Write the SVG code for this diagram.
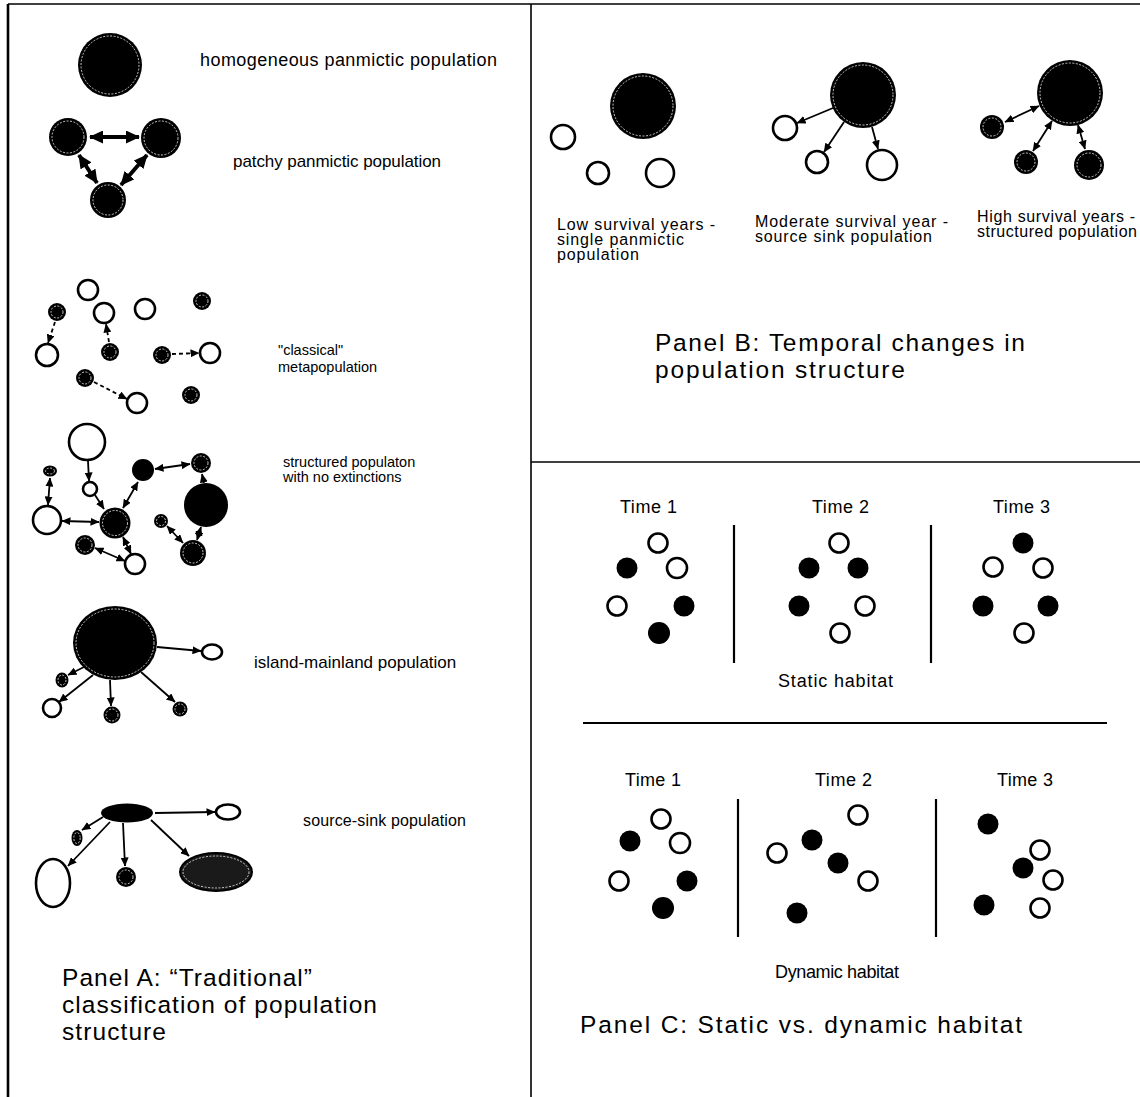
<svg xmlns="http://www.w3.org/2000/svg" width="1140" height="1097" viewBox="0 0 1140 1097">
<style>
.o{fill:#fff;stroke:#000;stroke-width:2.6}
.f{fill:#000}
.g{fill:#1a1a1a;stroke:#000;stroke-width:2}
.ring{fill:none;stroke:#fff;stroke-width:0.9;stroke-dasharray:2 1.5;opacity:0.85}
.ln{stroke:#000;stroke-width:1.8;fill:none}
.thick{stroke:#000;stroke-width:4;fill:none}
.dash{stroke-dasharray:4 3}
.frame{stroke:#000;fill:none}
text{font-family:"Liberation Sans",Arial,Helvetica,sans-serif;fill:#000}
.s14{font-size:14.5px}
.s16{font-size:16px}
.s17{font-size:17px}
.s18{font-size:18px}
.cap{font-size:24.5px}
</style>
<defs>
<marker id="ah" markerUnits="userSpaceOnUse" markerWidth="9" markerHeight="8" refX="8.5" refY="4" orient="auto-start-reverse"><path d="M0,0 L9,4 L0,8 Z" fill="#000"/></marker>
<marker id="ahb" markerUnits="userSpaceOnUse" markerWidth="14" markerHeight="13" refX="13" refY="6.5" orient="auto-start-reverse"><path d="M0,0 L14,6.5 L0,13 Z" fill="#000"/></marker>
</defs>
<rect width="1140" height="1097" fill="#fff"/>
<g id="frame">
<line class="frame" x1="8" y1="4" x2="1140" y2="4" stroke-width="1.5"/>
<line class="frame" x1="8" y1="4" x2="8" y2="1097" stroke-width="2.6"/>
<line class="frame" x1="531" y1="4" x2="531" y2="1097" stroke-width="1.6"/>
<line class="frame" x1="531" y1="462" x2="1140" y2="462" stroke-width="1.6"/>
<line class="frame" x1="583" y1="723" x2="1107" y2="723" stroke-width="2"/>
<line class="frame" x1="734" y1="525" x2="734" y2="663" stroke-width="2.2"/>
<line class="frame" x1="931" y1="525" x2="931" y2="663" stroke-width="2.2"/>
<line class="frame" x1="738" y1="799" x2="738" y2="937" stroke-width="2.2"/>
<line class="frame" x1="936" y1="799" x2="936" y2="937" stroke-width="2.2"/>
</g>

<!-- Panel A -->
<g id="homogeneous"><circle class="f" cx="110" cy="65" r="32"/><circle class="ring" cx="110" cy="65" r="29"/></g>
<g id="patchy-left"><circle class="f" cx="68" cy="137" r="19"/><circle class="ring" cx="68" cy="137" r="16"/></g>
<g id="patchy-right"><circle class="f" cx="161" cy="138" r="20"/><circle class="ring" cx="161" cy="138" r="17"/></g>
<g id="patchy-bottom"><circle class="f" cx="108" cy="200" r="18"/><circle class="ring" cx="108" cy="200" r="15"/></g>

<g id="cm1"><circle class="o" cx="88" cy="290" r="10"/></g>
<g id="cm2"><circle class="o" cx="104" cy="313" r="10"/></g>
<g id="cm3"><circle class="o" cx="145" cy="309" r="10"/></g>
<g id="cm4"><circle class="o" cx="47" cy="355" r="11"/></g>
<g id="cm5"><circle class="o" cx="210" cy="353" r="10"/></g>
<g id="cm6"><circle class="o" cx="137" cy="403" r="10"/></g>
<g id="cm7"><circle class="f" cx="57" cy="312" r="9"/><circle class="ring" cx="57" cy="312" r="6"/></g>
<g id="cm8"><circle class="f" cx="202" cy="301" r="9"/><circle class="ring" cx="202" cy="301" r="6"/></g>
<g id="cm9"><circle class="f" cx="110" cy="352" r="9"/><circle class="ring" cx="110" cy="352" r="6"/></g>
<g id="cm10"><circle class="f" cx="162" cy="355" r="9"/><circle class="ring" cx="162" cy="355" r="6"/></g>
<g id="cm11"><circle class="f" cx="85" cy="378" r="9"/><circle class="ring" cx="85" cy="378" r="6"/></g>
<g id="cm12"><circle class="f" cx="191" cy="395" r="9"/><circle class="ring" cx="191" cy="395" r="6"/></g>

<g id="sp-A"><circle class="o" cx="87" cy="442" r="18"/></g>
<g id="sp-B"><ellipse class="f" cx="50" cy="471" rx="7" ry="5.5"/><ellipse class="ring" cx="50" cy="471" rx="4.5" ry="3"/></g>
<g id="sp-C"><circle class="o" cx="90" cy="489" r="7"/></g>
<g id="sp-D"><circle class="o" cx="47" cy="520" r="14"/></g>
<g id="sp-E"><circle class="f" cx="115" cy="523" r="15.5"/><circle class="ring" cx="115" cy="523" r="12.5"/></g>
<g id="sp-F"><circle class="f" cx="143" cy="470" r="11"/></g>
<g id="sp-G"><circle class="f" cx="201" cy="463" r="10"/><circle class="ring" cx="201" cy="463" r="7"/></g>
<g id="sp-H"><circle class="f" cx="206" cy="505" r="22"/></g>
<g id="sp-I"><circle class="f" cx="161" cy="521" r="7"/><circle class="ring" cx="161" cy="521" r="4.5"/></g>
<g id="sp-J"><circle class="f" cx="85" cy="545" r="10"/><circle class="ring" cx="85" cy="545" r="7"/></g>
<g id="sp-K"><circle class="o" cx="135" cy="564" r="10"/></g>
<g id="sp-L"><circle class="f" cx="193" cy="553" r="13"/><circle class="ring" cx="193" cy="553" r="10"/></g>

<g id="mainland"><ellipse class="f" cx="115" cy="643" rx="42" ry="37"/><ellipse class="ring" cx="115" cy="643" rx="39" ry="34"/></g>
<g id="im1"><ellipse class="o" cx="212" cy="652" rx="10" ry="7.5"/></g>
<g id="im2"><ellipse class="f" cx="62" cy="680" rx="6.5" ry="7.5"/><ellipse class="ring" cx="62" cy="680" rx="4" ry="5"/></g>
<g id="im3"><circle class="o" cx="52" cy="708" r="9"/></g>
<g id="im4"><circle class="f" cx="112" cy="715" r="8.5"/><circle class="ring" cx="112" cy="715" r="6"/></g>
<g id="im5"><circle class="f" cx="180" cy="709" r="7.5"/><circle class="ring" cx="180" cy="709" r="5"/></g>

<g id="source"><ellipse class="f" cx="127" cy="813" rx="26" ry="9.5"/></g>
<g id="ss1"><ellipse class="o" cx="228" cy="812" rx="12" ry="7.5"/></g>
<g id="ss2"><ellipse class="f" cx="77" cy="838" rx="5.5" ry="8"/><ellipse class="ring" cx="77" cy="838" rx="3.2" ry="5.5"/></g>
<g id="ss3"><ellipse class="o" cx="53" cy="883" rx="17" ry="24"/></g>
<g id="ss4"><circle class="f" cx="126" cy="877" r="10"/><circle class="ring" cx="126" cy="877" r="7"/></g>
<g id="ss5"><ellipse class="g" cx="216" cy="872" rx="36" ry="19"/><ellipse class="ring" cx="216" cy="872" rx="33" ry="16"/></g>

<!-- Panel B -->
<g id="low-big"><circle class="f" cx="643" cy="106" r="33"/><circle class="ring" cx="643" cy="106" r="30"/></g>
<g id="low-1"><circle class="o" cx="563" cy="137" r="12"/></g>
<g id="low-2"><circle class="o" cx="598" cy="173" r="11"/></g>
<g id="low-3"><circle class="o" cx="660" cy="173" r="14"/></g>
<g id="mod-big"><circle class="f" cx="863" cy="95" r="33"/><circle class="ring" cx="863" cy="95" r="30"/></g>
<g id="mod-1"><circle class="o" cx="785" cy="128" r="12"/></g>
<g id="mod-2"><circle class="o" cx="817" cy="162" r="11"/></g>
<g id="mod-3"><circle class="o" cx="882" cy="165" r="15"/></g>
<g id="high-big"><circle class="f" cx="1070" cy="93" r="33"/><circle class="ring" cx="1070" cy="93" r="30"/></g>
<g id="high-1"><circle class="f" cx="992" cy="127" r="12"/><circle class="ring" cx="992" cy="127" r="9"/></g>
<g id="high-2"><circle class="f" cx="1026" cy="162" r="12"/><circle class="ring" cx="1026" cy="162" r="9"/></g>
<g id="high-3"><circle class="f" cx="1089" cy="165" r="15"/><circle class="ring" cx="1089" cy="165" r="12"/></g>

<!-- Panel C static -->
<g id="st1">
<circle class="o" cx="658" cy="543" r="9.5"/><circle class="f" cx="627" cy="568" r="10.5"/><circle class="o" cx="677" cy="568" r="10"/>
<circle class="o" cx="617" cy="606" r="9.5"/><circle class="f" cx="684" cy="606" r="10.5"/><circle class="f" cx="659" cy="633" r="11"/>
</g>
<g id="st2">
<circle class="o" cx="839" cy="543" r="9.5"/><circle class="f" cx="809" cy="568" r="10.5"/><circle class="f" cx="858" cy="568" r="10.5"/>
<circle class="f" cx="799" cy="606" r="10.5"/><circle class="o" cx="865" cy="606" r="9.5"/><circle class="o" cx="840" cy="633" r="9.5"/>
</g>
<g id="st3">
<circle class="f" cx="1023" cy="543" r="10.5"/><circle class="o" cx="993" cy="567" r="9.5"/><circle class="o" cx="1043" cy="568" r="9.5"/>
<circle class="f" cx="983" cy="606" r="10.5"/><circle class="f" cx="1048" cy="606" r="10.5"/><circle class="o" cx="1024" cy="633" r="9.5"/>
</g>
<!-- Panel C dynamic -->
<g id="dy1">
<circle class="o" cx="661" cy="819" r="9.5"/><circle class="f" cx="630" cy="841" r="10.5"/><circle class="o" cx="680" cy="843" r="10"/>
<circle class="o" cx="619" cy="881" r="9.5"/><circle class="f" cx="687" cy="881" r="10.5"/><circle class="f" cx="663" cy="908" r="11"/>
</g>
<g id="dy2">
<circle class="o" cx="777" cy="853" r="9.5"/><circle class="f" cx="812" cy="840" r="10.5"/><circle class="f" cx="838" cy="863" r="10.5"/>
<circle class="o" cx="858" cy="815" r="9.5"/><circle class="o" cx="868" cy="881" r="9.5"/><circle class="f" cx="797" cy="913" r="10.5"/>
</g>
<g id="dy3">
<circle class="f" cx="988" cy="824" r="10.5"/><circle class="o" cx="1040" cy="850" r="9.5"/><circle class="f" cx="1023" cy="868" r="10.5"/>
<circle class="o" cx="1053" cy="880" r="9.5"/><circle class="f" cx="984" cy="905" r="10.5"/><circle class="o" cx="1040" cy="908" r="9.5"/>
</g>

<g id="connectors">
<line class="thick" x1="90" y1="137" x2="139" y2="137" marker-start="url(#ahb)" marker-end="url(#ahb)"/>
<line class="thick" x1="79" y1="155" x2="97" y2="183" marker-start="url(#ahb)" marker-end="url(#ahb)"/>
<line class="thick" x1="147" y1="155" x2="121" y2="185" marker-start="url(#ahb)" marker-end="url(#ahb)"/>
<line class="ln dash" x1="55" y1="322" x2="48" y2="343" marker-end="url(#ah)"/>
<line class="ln dash" x1="109" y1="342" x2="106" y2="324" marker-end="url(#ah)"/>
<line class="ln dash" x1="172" y1="354" x2="199" y2="353" marker-end="url(#ah)"/>
<line class="ln dash" x1="94" y1="382" x2="127" y2="399" marker-end="url(#ah)"/>
<line class="ln" x1="88" y1="461" x2="89" y2="481" marker-end="url(#ah)"/>
<line class="ln" x1="95" y1="495" x2="104" y2="509" marker-end="url(#ah)"/>
<line class="ln" x1="50" y1="478" x2="48" y2="505" marker-start="url(#ah)" marker-end="url(#ah)"/>
<line class="ln" x1="62" y1="521" x2="99" y2="522" marker-start="url(#ah)" marker-end="url(#ah)"/>
<line class="ln" x1="123" y1="508" x2="138" y2="482" marker-start="url(#ah)" marker-end="url(#ah)"/>
<line class="ln" x1="155" y1="469" x2="190" y2="464" marker-start="url(#ah)" marker-end="url(#ah)"/>
<line class="ln" x1="204" y1="483" x2="202" y2="474" marker-end="url(#ah)"/>
<line class="ln" x1="201" y1="527" x2="197" y2="540" marker-start="url(#ah)" marker-end="url(#ah)"/>
<line class="ln" x1="167" y1="526" x2="183" y2="543" marker-start="url(#ah)" marker-end="url(#ah)"/>
<line class="ln" x1="95" y1="548" x2="125" y2="561" marker-start="url(#ah)" marker-end="url(#ah)"/>
<line class="ln" x1="123" y1="537" x2="131" y2="554" marker-start="url(#ah)" marker-end="url(#ah)"/>
<line class="ln" x1="157" y1="647" x2="201" y2="651" marker-end="url(#ah)"/>
<line class="ln" x1="84" y1="667" x2="68" y2="675" marker-end="url(#ah)"/>
<line class="ln" x1="93" y1="675" x2="59" y2="702" marker-end="url(#ah)"/>
<line class="ln" x1="110" y1="680" x2="111" y2="706" marker-end="url(#ah)"/>
<line class="ln" x1="141" y1="672" x2="175" y2="702" marker-end="url(#ah)"/>
<line class="ln" x1="155" y1="813" x2="215" y2="812" marker-end="url(#ah)"/>
<line class="ln" x1="103" y1="817" x2="82" y2="830" marker-end="url(#ah)"/>
<line class="ln" x1="110" y1="822" x2="68" y2="866" marker-end="url(#ah)"/>
<line class="ln" x1="123" y1="823" x2="125" y2="866" marker-end="url(#ah)"/>
<line class="ln" x1="151" y1="820" x2="189" y2="856" marker-end="url(#ah)"/>
<line class="ln" x1="833" y1="108" x2="797" y2="123" marker-end="url(#ah)"/>
<line class="ln" x1="844" y1="122" x2="824" y2="152" marker-end="url(#ah)"/>
<line class="ln" x1="872" y1="127" x2="878" y2="149" marker-end="url(#ah)"/>
<line class="ln" x1="1039" y1="106" x2="1005" y2="122" marker-start="url(#ah)" marker-end="url(#ah)"/>
<line class="ln" x1="1052" y1="121" x2="1033" y2="151" marker-start="url(#ah)" marker-end="url(#ah)"/>
<line class="ln" x1="1078" y1="125" x2="1085" y2="149" marker-start="url(#ah)" marker-end="url(#ah)"/>
</g>

<g id="labels">
<text class="s18" x="200" y="66" textLength="297" lengthAdjust="spacing">homogeneous panmictic population</text>
<text class="s17" x="233" y="167" textLength="208" lengthAdjust="spacing">patchy panmictic population</text>
<text class="s14" x="278" y="355">"classical"</text>
<text class="s14" x="278" y="372">metapopulation</text>
<text class="s14" x="283" y="467">structured populaton</text>
<text class="s14" x="283" y="482">with no extinctions</text>
<text class="s17" x="254" y="668">island-mainland population</text>
<text class="s16" x="303" y="826" textLength="163" lengthAdjust="spacing">source-sink population</text>
<text class="cap" x="62" y="986" textLength="250" lengthAdjust="spacing">Panel A: “Traditional”</text>
<text class="cap" x="62" y="1013" textLength="315" lengthAdjust="spacing">classification of population</text>
<text class="cap" x="62" y="1040" textLength="104" lengthAdjust="spacing">structure</text>

<text class="s16" x="557" y="230" textLength="158" lengthAdjust="spacing">Low survival years -</text>
<text class="s16" x="557" y="245" textLength="127" lengthAdjust="spacing">single panmictic</text>
<text class="s16" x="557" y="260" textLength="82" lengthAdjust="spacing">population</text>
<text class="s16" x="755" y="227" textLength="193" lengthAdjust="spacing">Moderate survival year -</text>
<text class="s16" x="755" y="242" textLength="177" lengthAdjust="spacing">source sink population</text>
<text class="s16" x="977" y="222" textLength="158" lengthAdjust="spacing">High survival years -</text>
<text class="s16" x="977" y="237" textLength="160" lengthAdjust="spacing">structured population</text>
<text class="cap" x="655" y="351" textLength="370" lengthAdjust="spacing">Panel B: Temporal changes in</text>
<text class="cap" x="655" y="378" textLength="250" lengthAdjust="spacing">population structure</text>

<text class="s18" x="620" y="513" textLength="57" lengthAdjust="spacing">Time 1</text>
<text class="s18" x="812" y="513" textLength="57" lengthAdjust="spacing">Time 2</text>
<text class="s18" x="993" y="513" textLength="57" lengthAdjust="spacing">Time 3</text>
<text class="s18" x="778" y="687" textLength="115" lengthAdjust="spacing">Static habitat</text>
<text class="s18" x="625" y="786" textLength="56" lengthAdjust="spacing">Time 1</text>
<text class="s18" x="815" y="786" textLength="57" lengthAdjust="spacing">Time 2</text>
<text class="s18" x="997" y="786" textLength="56" lengthAdjust="spacing">Time 3</text>
<text class="s18" x="775" y="978" textLength="124" lengthAdjust="spacing">Dynamic habitat</text>
<text class="cap" x="580" y="1033" textLength="442" lengthAdjust="spacing">Panel C: Static vs. dynamic habitat</text>
</g>
</svg>
